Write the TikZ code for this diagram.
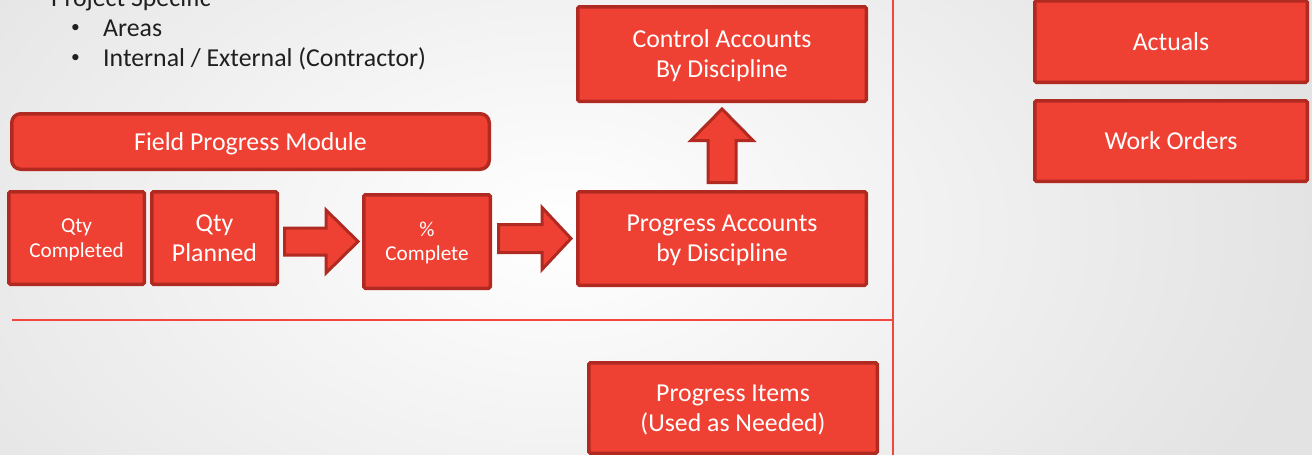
\documentclass[tikz,border=0pt]{standalone}
\usepackage{fontspec}
\setmainfont{Carlito}
\usetikzlibrary{calc}
\definecolor{boxred}{RGB}{239,65,51}
\definecolor{boxedge}{RGB}{176,42,34}
\definecolor{linered}{RGB}{240,72,60}
\newcommand\blockArrowH[5]{%
  \path let \p1=(#1),\p2=(#2) in [barrow]
    (\x1,\y1+#3pt) -- (\x2-#5pt,\y1+#3pt) -- (\x2-#5pt,\y1+#4pt) -- (\x2,\y1)
    -- (\x2-#5pt,\y1-#4pt) -- (\x2-#5pt,\y1-#3pt) -- (\x1,\y1-#3pt) -- cycle;}
\newcommand\blockArrowV[5]{%
  \path let \p1=(#1),\p2=(#2) in [barrow]
    (\x1-#3pt,\y1) -- (\x1-#3pt,\y2-#5pt) -- (\x1-#4pt,\y2-#5pt) -- (\x1,\y2)
    -- (\x1+#4pt,\y2-#5pt) -- (\x1+#3pt,\y2-#5pt) -- (\x1+#3pt,\y1) -- cycle;}
\begin{document}
\begin{tikzpicture}[x=1pt,y=-1pt,
  box/.style={draw=boxedge,fill=boxred,line width=3.5pt,text=white,align=center,
    inner sep=0pt,rounded corners=1.5pt,text depth=0pt,font=\fontsize{25.8}{30}\selectfont},
  smallbox/.style={box,font=\fontsize{21.2}{24.5}\selectfont},
  barrow/.style={draw=boxedge,fill=boxred,line width=3pt,line join=miter},
  divider/.style={draw=linered,line width=1.5pt},
  txt/.style={anchor=base west,inner sep=0pt,font=\fontsize{25.8}{30}\selectfont,text=black!88},
  bul/.style={anchor=base west,inner sep=0pt,font=\fontsize{17.5}{20}\selectfont,text=black!88}]
\useasboundingbox (0,0) rectangle (1312,455);
\begin{scope}
\clip (0,0) rectangle (1312,455);
\shade[inner color=white,outer color=black!11] (-200,-250) rectangle (1320,710);
\end{scope}
% dividers
\draw[divider] (893,0) -- (893,455);
\draw[divider] (12,320) -- (893,320);
% text
\node[txt] (ps) at (51,6) {Project Specific};
\node[bul] (b1) at (71,32.5) {•};
\node[txt] (ar) at (103,36) {Areas};
\node[bul] (b2) at (71,62.5) {•};
\node[txt] (ie) at (103,66) {Internal / External (Contractor)};
% boxes
\node[box,rounded corners=9pt,minimum width=477.5pt,minimum height=55.5pt] (fpm) at (250.5,141.5) {Field Progress Module};
\node[smallbox,minimum width=135.5pt,minimum height=92.5pt] (qc) at (76.5,238) {Qty\\Completed};
\node[box,minimum width=125.5pt,minimum height=92.5pt] (qp) at (214.5,238) {Qty\\Planned};
\node[smallbox,minimum width=126.5pt,minimum height=93.5pt] (pc) at (427,241.5) {\%\\Complete};
\node[box,minimum width=288.5pt,minimum height=93.5pt] (pa) at (722,238.5) {Progress Accounts\\by Discipline};
\node[box,minimum width=288.5pt,minimum height=94.5pt] (ca) at (722,54) {Control Accounts\\By Discipline};
\node[box,minimum width=288.5pt,minimum height=90.5pt] (pi) at (733,408) {Progress Items\\(Used as Needed)};
\node[box,minimum width=272.5pt,minimum height=81.5pt] (act) at (1171,41.5) {Actuals};
\node[box,minimum width=272.5pt,minimum height=80.5pt] (wo) at (1171,141) {Work Orders};
% block arrows
\coordinate (a1s) at ($(qp.east |- pc.center)+(5.5,0)$);
\coordinate (a1e) at ($(pc.west)+(-4,0)$);
\blockArrowH{a1s}{a1e}{13.5}{31.5}{32}
\coordinate (a2s) at ($(pc.east |- pa.center)+(6.5,0)$);
\coordinate (a2e) at ($(pa.west)+(-5,0)$);
\blockArrowH{a2s}{a2e}{14}{31}{29}
\coordinate (a3s) at ($(pa.north)+(0,-7.5)$);
\coordinate (a3e) at ($(ca.south)+(0,6)$);
\blockArrowV{a3s}{a3e}{14}{31}{31.5}
\end{tikzpicture}
\end{document}
